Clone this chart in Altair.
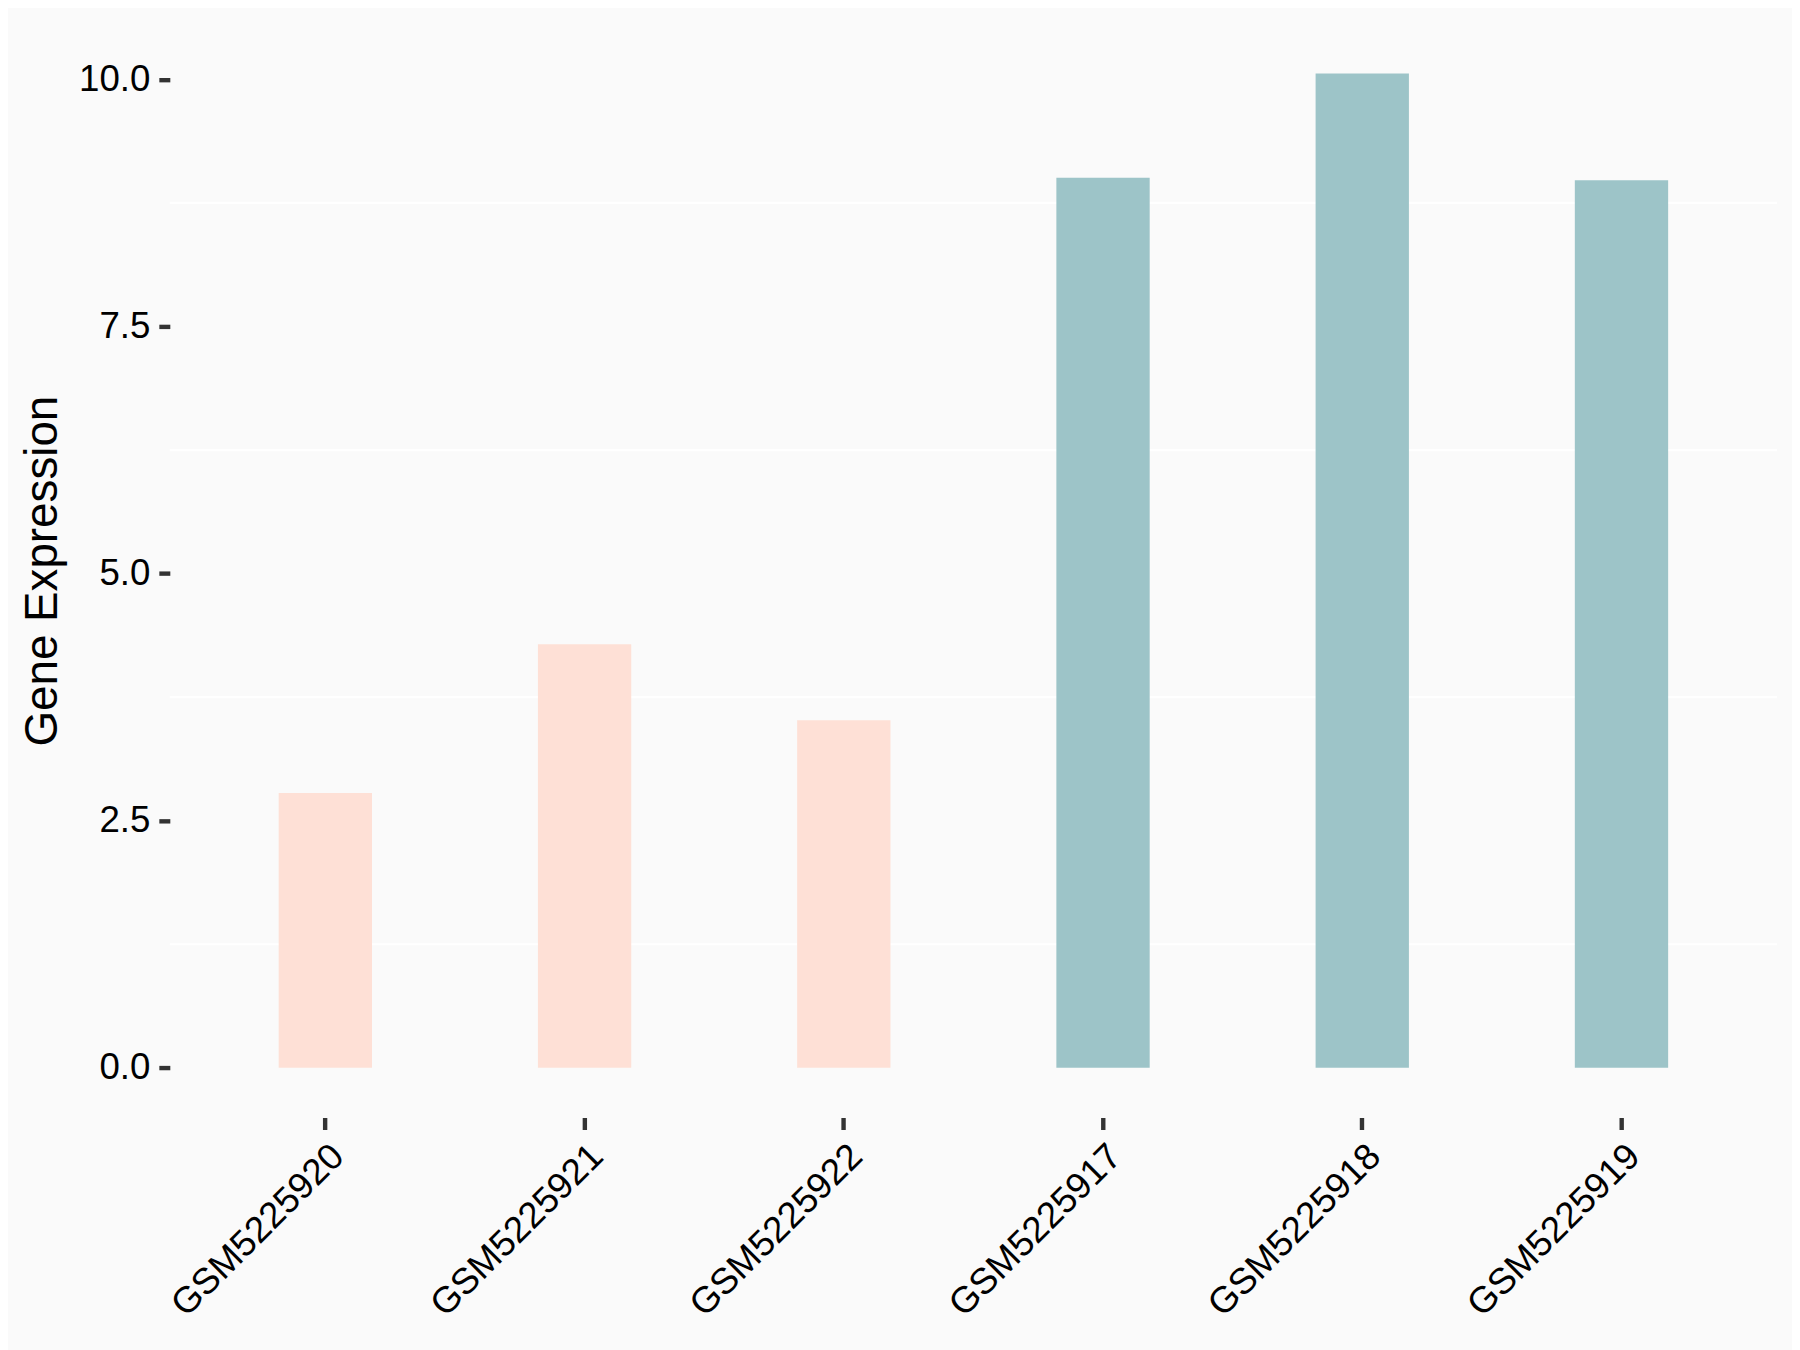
import altair as alt
import pandas as pd

samples = ["GSM5225920", "GSM5225921", "GSM5225922", "GSM5225917", "GSM5225918", "GSM5225919"]
values = [2.78, 4.285, 3.515, 9.005, 10.06, 8.98]
groups = ["control", "control", "control", "treat", "treat", "treat"]
group_names = ["control", "treat"]
group_colors = ["#FEE0D6", "#9DC4C8"]
y_ticks = [0, 2.5, 5, 7.5, 10]
minor_grid = [1.25, 3.75, 6.25, 8.75]

df = pd.DataFrame({"sample": samples, "value": values, "group": groups})
grid_df = pd.DataFrame({"g": minor_grid})

y_dom = [-0.503, 10.563]
FONT = "Liberation Sans"

x_enc = alt.X(
    "sample:N", sort=None, title=None,
    scale=alt.Scale(paddingInner=0.64, paddingOuter=0.42),
    axis=alt.Axis(labelAngle=-45, labelAlign="right", labelBaseline="top",
                  labelPadding=8, tickSize=12, tickWidth=4.4, tickColor="#333333",
                  domain=False, grid=False, labelFontSize=36.7, labelColor="black",
                  labelFont=FONT, labelLimit=0),
)

bars = alt.Chart(df).mark_bar().encode(
    x=x_enc,
    y=alt.Y("value:Q", title="Gene Expression",
            scale=alt.Scale(domain=y_dom, nice=False, zero=False),
            axis=alt.Axis(values=y_ticks, format=".1f", tickSize=11, tickWidth=4.4,
                          tickColor="#333333", domain=False, grid=False,
                          labelFontSize=36.7, labelColor="black", labelFont=FONT,
                          labelPadding=9, titleFontSize=45.8, titleFont=FONT,
                          titleFontWeight="normal", titleColor="black", titlePadding=12)),
    y2=alt.datum(0),
    color=alt.Color("group:N", scale=alt.Scale(domain=group_names, range=group_colors), legend=None),
)

grid = alt.Chart(grid_df).mark_rule(color="white", strokeWidth=2.2).encode(
    y=alt.Y("g:Q", scale=alt.Scale(domain=y_dom, nice=False, zero=False))
)

chart = alt.layer(grid, bars).properties(
    width=1609, height=1095, background="#FAFAFA",
    padding={"left": 11, "top": 15, "right": 13, "bottom": 28},
).configure_view(stroke=None)

chart.save("out.html", embed_options={"renderer": "svg", "actions": False})
